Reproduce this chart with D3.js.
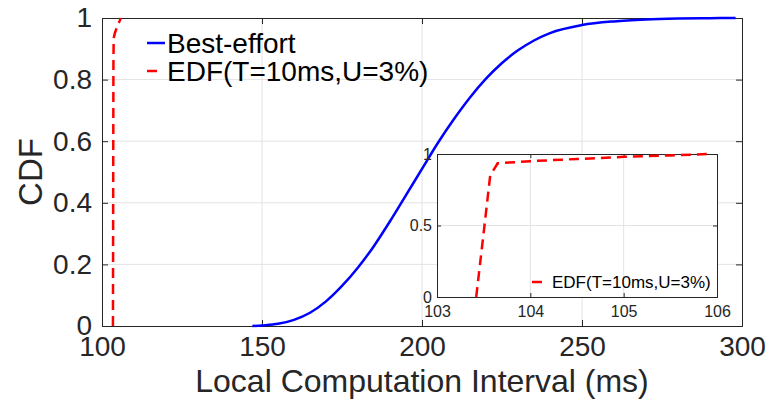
<!DOCTYPE html>
<html>
<head>
<meta charset="utf-8">
<script src="https://cdn.jsdelivr.net/npm/d3@7"></script>
<style>
  body { margin: 0; background: #fff; }
  svg { display: block; font-family: "Liberation Sans", Arial, Helvetica, sans-serif; }
</style>
</head>
<body>
<div id="chart"></div>
<script>
// Best-effort CDF
var beX = [147, 150, 155, 160, 165, 170, 175, 180, 185, 190, 195, 200, 205, 210, 215, 220, 225, 230, 235, 240, 250, 260, 270, 280, 290, 298];
var beY = [0, 0.002, 0.007, 0.02, 0.043, 0.08, 0.13, 0.19, 0.26, 0.34, 0.425, 0.51, 0.595, 0.672, 0.742, 0.803, 0.854, 0.895, 0.927, 0.951, 0.977, 0.989, 0.995, 0.998, 0.9995, 1.0];

// EDF(T=10ms,U=3%) CDF
var edfX = [103.42, 103.5, 103.57, 103.65, 104, 104.5, 105, 105.5, 105.9];
var edfY = [0, 0.45, 0.85, 0.935, 0.95, 0.965, 0.98, 0.99, 1.0];

var xTicks = [100, 150, 200, 250, 300];
var yTicks = [0, 0.2, 0.4, 0.6, 0.8, 1];
var insetXTicks = [103, 104, 105, 106];
var insetYTicks = [0, 0.5, 1];

var seriesNames = ["Best-effort", "EDF(T=10ms,U=3%)"];

var W = 770, H = 405;
var axisColor = "#262626", gridColor = "#e3e3e3";

var svg = d3.select("#chart").append("svg")
    .attr("width", W).attr("height", H);

var beData = beX.map(function(d, i) { return {x: d, y: beY[i]}; });
var edfData = edfX.map(function(d, i) { return {x: d, y: edfY[i]}; });

// draws a MATLAB-like boxed axes with grid, returns scales
function drawAxes(g, box, xDom, yDom, xt, yt, fs, pad, tick) {
    var x = d3.scaleLinear().domain(xDom).range([box.left, box.right]);
    var y = d3.scaleLinear().domain(yDom).range([box.bottom, box.top]);

    g.append("rect")
        .attr("x", box.left).attr("y", box.top)
        .attr("width", box.right - box.left).attr("height", box.bottom - box.top)
        .attr("fill", "#fff");

    // grid
    g.selectAll(null).data(xt.slice(1, -1)).enter().append("line")
        .attr("x1", d => x(d)).attr("x2", d => x(d))
        .attr("y1", box.top).attr("y2", box.bottom)
        .attr("stroke", gridColor).attr("stroke-width", 1);
    g.selectAll(null).data(yt.slice(1, -1)).enter().append("line")
        .attr("y1", d => y(d)).attr("y2", d => y(d))
        .attr("x1", box.left).attr("x2", box.right)
        .attr("stroke", gridColor).attr("stroke-width", 1);

    var xa = g.append("g").attr("transform", "translate(0," + box.bottom + ")")
        .call(d3.axisBottom(x).tickValues(xt).tickFormat(d => d).tickSize(-tick).tickPadding(pad.x));
    var xTop = g.append("g").attr("transform", "translate(0," + box.top + ")")
        .call(d3.axisTop(x).tickValues(xt).tickFormat("").tickSize(-tick));
    var ya = g.append("g").attr("transform", "translate(" + box.left + ",0)")
        .call(d3.axisLeft(y).tickValues(yt).tickFormat(d => d).tickSize(-tick).tickPadding(pad.y));
    var yRight = g.append("g").attr("transform", "translate(" + box.right + ",0)")
        .call(d3.axisRight(y).tickValues(yt).tickFormat("").tickSize(-tick));

    [xa, xTop, ya, yRight].forEach(function(a) {
        a.select(".domain").attr("stroke", axisColor).attr("stroke-width", 1);
        a.selectAll(".tick line").attr("stroke", axisColor);
        a.selectAll("text").attr("fill", axisColor).style("font-size", fs + "px")
            .style("font-family", "'Liberation Sans', Arial, sans-serif");
    });
    return {x: x, y: y};
}

// main axes
var main = {left: 102, right: 742, top: 18, bottom: 326};
var gMain = svg.append("g");
var m = drawAxes(gMain, main, [100, 300], [0, 1], xTicks, yTicks, 28, {x: 10, y: 10}, 6);

gMain.append("path").datum(beData)
    .attr("d", d3.line().x(d => m.x(d.x)).y(d => m.y(d.y)).curve(d3.curveMonotoneX))
    .attr("fill", "none").attr("stroke", "#0000ff").attr("stroke-width", 2.5);

gMain.append("path").datum(edfData)
    .attr("d", d3.line().x(d => m.x(d.x)).y(d => m.y(d.y)))
    .attr("fill", "none").attr("stroke", "#ff0000").attr("stroke-width", 2.5)
    .attr("stroke-dasharray", "10,6");

// axis titles
svg.append("text")
    .attr("x", (main.left + main.right) / 2).attr("y", 392)
    .attr("text-anchor", "middle").attr("fill", axisColor)
    .style("font-size", "32px")
    .text("Local Computation Interval (ms)");

svg.append("text")
    .attr("transform", "translate(42," + ((main.top + main.bottom) / 2) + ") rotate(-90)")
    .attr("text-anchor", "middle").attr("fill", axisColor)
    .style("font-size", "33px")
    .text("CDF");

// main legend
var legend = svg.append("g");
legend.append("line").attr("x1", 147).attr("x2", 165).attr("y1", 43).attr("y2", 43)
    .attr("stroke", "#0000ff").attr("stroke-width", 2.5);
legend.append("line").attr("x1", 147).attr("x2", 165).attr("y1", 71).attr("y2", 71)
    .attr("stroke", "#ff0000").attr("stroke-width", 2.5).attr("stroke-dasharray", "10,8");
legend.selectAll(null).data(seriesNames).enter().append("text")
    .attr("x", 167).attr("y", (d, i) => 43 + i * 28)
    .attr("dy", "0.35em").attr("fill", "#000")
    .style("font-size", "28px")
    .text(d => d);

// inset axes
var inset = {left: 437, right: 717, top: 154, bottom: 297};
var gIn = svg.append("g");
var n = drawAxes(gIn, inset, [103, 106], [0, 1], insetXTicks, insetYTicks, 16, {x: 9, y: 5}, 4);

gIn.append("path").datum(edfData)
    .attr("d", d3.line().x(d => n.x(d.x)).y(d => n.y(d.y)))
    .attr("fill", "none").attr("stroke", "#ff0000").attr("stroke-width", 2.5)
    .attr("stroke-dasharray", "10,6");

gIn.append("line").attr("x1", 532).attr("x2", 542).attr("y1", 282).attr("y2", 282)
    .attr("stroke", "#ff0000").attr("stroke-width", 2.5);
gIn.append("text").attr("x", 552).attr("y", 282).attr("dy", "0.35em")
    .attr("fill", "#000").style("font-size", "17px")
    .text(seriesNames[1]);
</script>
</body>
</html>
